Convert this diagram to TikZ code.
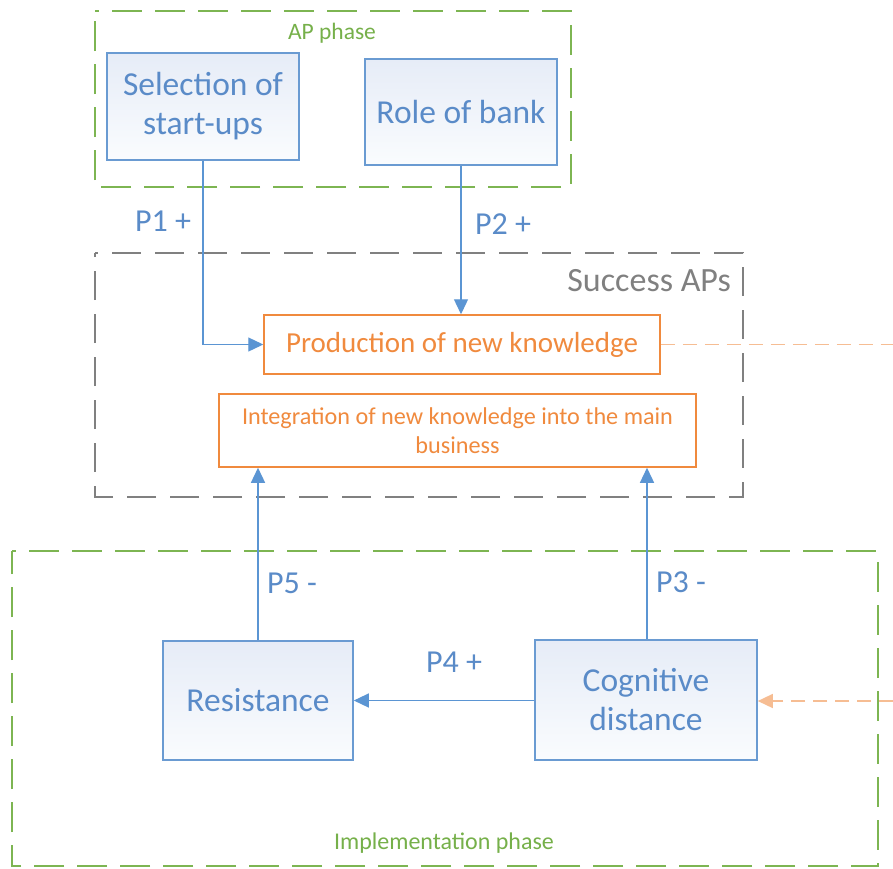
\documentclass[tikz,border=0pt]{standalone}
\usepackage{fontspec}
\setmainfont{Carlito}
\usetikzlibrary{arrows.meta}
\definecolor{bbord}{HTML}{6A9BD2}
\definecolor{btext}{HTML}{5A8BC8}
\definecolor{btop}{HTML}{E6ECF7}
\definecolor{bbot}{HTML}{FAFCFE}
\definecolor{oline}{HTML}{F08A3E}
\definecolor{otext}{HTML}{F08A3E}
\definecolor{olight}{HTML}{F6BD93}
\definecolor{gline}{HTML}{7DB552}
\definecolor{gtext}{HTML}{76B04A}
\definecolor{grayl}{HTML}{808080}
\definecolor{arrowb}{HTML}{5B95D3}
\tikzset{
  bluebox/.style={draw=bbord, line width=1.6pt, top color=btop, bottom color=bbot,
    text=btext, align=center, font=\fontsize{33.5}{39}\selectfont, inner sep=0pt},
  orangebox/.style={draw=oline, line width=1.5pt, fill=white, text=otext,
    align=center, inner sep=0pt},
  phasebox/.style={draw=gline, line width=1.7pt, dash pattern=on 30pt off 13pt, dash phase=26pt},
  succbox/.style={draw=grayl, line width=1.6pt, dash pattern=on 29pt off 14pt, dash phase=26pt},
  conn/.style={draw=arrowb, line width=1.3pt, -{Triangle[length=15pt,width=14pt]}},
  odash/.style={draw=olight, line width=1.5pt, dash pattern=on 14pt off 8pt},
  plabel/.style={text=btext, font=\fontsize{32}{36}\selectfont, inner sep=0pt},
  glabel/.style={text=gtext, font=\fontsize{23.5}{28}\selectfont, inner sep=0pt},
}
\begin{document}
\begin{tikzpicture}[x=1pt,y=-1pt]
\fill[white] (0,0) rectangle (893,868);
\useasboundingbox (0,0) rectangle (893,868);
% dashed phase boxes
\draw[phasebox] (95,11) -- (571,11) -- (571,187) -- (95,187) -- cycle;
\draw[succbox] (95,253) -- (743,253) -- (743,497) -- (95,497) -- cycle;
\draw[phasebox] (12,551) -- (878,551) -- (878,866) -- (12,866) -- cycle;
\node[glabel] (apl) at (332,33) {AP phase};
\node[glabel, font=\fontsize{24}{28}\selectfont] (impl) at (444,843) {Implementation phase};
\node[text=grayl, font=\fontsize{34}{38}\selectfont, inner sep=0pt, anchor=east] (succl) at (731,281) {Success APs};
% boxes
\node[bluebox, minimum width=192pt, minimum height=107pt] (sel) at (203,106.5) {Selection of\\start-ups};
\node[bluebox, minimum width=192pt, minimum height=106pt] (role) at (461,112) {Role of bank};
\node[orangebox, minimum width=396pt, minimum height=59pt, font=\fontsize{29}{33}\selectfont] (prod) at (462,344.5) {Production of new knowledge};
\node[orangebox, minimum width=477pt, minimum height=73pt, font=\fontsize{24.2}{29}\selectfont] (integ) at (457.5,430.5) {Integration of new knowledge into the main\\business};
\node[bluebox, minimum width=190pt, minimum height=119pt] (res) at (258,700.5) {Resistance};
\node[bluebox, minimum width=222pt, minimum height=120pt] (cog) at (646,700) {Cognitive\\distance};
% coordinates
\coordinate (bend) at (sel.south |- prod.west);
\coordinate (cogtop) at ([xshift=1pt]cog.north);
\coordinate (rE1) at (893,344.5);
\coordinate (rE2) at (893,701);
% connectors
\draw[conn] (sel.south) -- (bend) -- (prod.west);
\draw[conn] (role.south) -- (prod.north -| role.south);
\draw[conn] (res.north) -- (integ.south -| res.north);
\draw[conn] (cogtop) -- (integ.south -| cogtop);
\draw[conn] (cog.west |- res.east) -- (res.east);
\draw[odash] (prod.east) -- (rE1);
\draw[odash, -{Triangle[length=15pt,width=14pt]}] (rE2) -- (cog.east |- rE2);
% P labels
\node[plabel] (p1) at (163,221) {P1 +};
\node[plabel] (p2) at (503,224) {P2 +};
\node[plabel] (p5) at (292,583) {P5 -};
\node[plabel] (p3) at (681,582) {P3 -};
\node[plabel] (p4) at (454,662) {P4 +};
\end{tikzpicture}
\end{document}
